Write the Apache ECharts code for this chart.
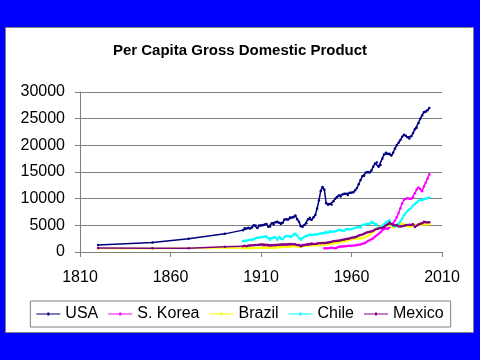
<!DOCTYPE html>
<html>
<head>
<meta charset="utf-8">
<script src="https://cdn.jsdelivr.net/npm/echarts@6/dist/echarts.min.js"></script>
<style>
html,body{margin:0;padding:0;background:#0000FF;}
#chart{width:480px;height:360px;}
</style>
</head>
<body>
<div id="chart"></div>
<script>
// ---- Data ----
const titleText = 'Per Capita Gross Domestic Product';
const seriesNames = ['USA', 'S. Korea', 'Brazil', 'Chile', 'Mexico'];
const yTicks = [0, 5000, 10000, 15000, 20000, 25000, 30000];
const xTicks = [1810, 1860, 1910, 1960, 2010];

const earlyYears = [1820, 1850, 1870, 1890];
const modernYears = [
  1900,1901,1902,1903,1904,1905,1906,1907,1908,1909,
  1910,1911,1912,1913,1914,1915,1916,1917,1918,1919,
  1920,1921,1922,1923,1924,1925,1926,1927,1928,1929,
  1930,1931,1932,1933,1934,1935,1936,1937,1938,1939,
  1940,1941,1942,1943,1944,1945,1946,1947,1948,1949,
  1950,1951,1952,1953,1954,1955,1956,1957,1958,1959,
  1960,1961,1962,1963,1964,1965,1966,1967,1968,1969,
  1970,1971,1972,1973,1974,1975,1976,1977,1978,1979,
  1980,1981,1982,1983,1984,1985,1986,1987,1988,1989,
  1990,1991,1992,1993,1994,1995,1996,1997,1998,1999,
  2000,2001,2002,2003
];

const usaEarly = [1300, 1800, 2500, 3400];
const usaModern = [
  4100,4450,4400,4550,4400,4600,5000,4950,4500,4950,
  4950,5000,5150,5250,4750,4800,5400,5200,5600,5650,
  5500,5250,5500,6100,6150,6100,6450,6450,6500,6850,
  6150,5650,4850,4750,5050,5400,6150,6400,6050,6500,
  6950,8150,9650,11450,12200,11650,9150,8850,9000,8900,
  9500,10000,10300,10600,10400,10800,10900,10900,10700,11100,
  11100,11200,11600,12000,12700,13500,14200,14300,14900,15000,
  14900,15300,16000,16600,16800,16000,16300,17500,18300,18600,
  18400,18400,18100,18600,19400,20000,20500,21000,21600,22000,
  21800,21500,21300,21700,22300,23000,23300,24200,25000,25600,
  26200,26300,26600,27000
];

const koreaModern = [
  null,null,null,null,null,null,null,null,null,null,
  null,850,1150,1200,1000,1000,1050,1100,1150,1100,
  1050,1050,1050,1100,1100,1100,1150,1200,1150,1200,
  1200,1200,1200,1300,1300,1350,1500,1500,1650,1400,
  1450,null,null,null,null,700,650,700,750,800,
  750,700,800,1000,1050,1050,1100,1100,1150,1150,
  1150,1200,1200,1300,1350,1400,1550,1650,1800,2050,
  2200,2400,2550,2900,3150,3400,3700,4100,4300,4400,
  4300,4600,5000,5400,5900,6500,7300,8200,9100,9800,
  10000,10100,10000,10000,10200,11000,11700,12100,11800,11400,
  12300,13000,13800,14600
];

const brazilEarly = [650, 650, 720, 800];
const brazilModern = [
  700,700,700,700,700,720,780,780,760,780,
  800,820,850,830,780,790,800,830,800,870,
  900,890,940,980,970,960,970,1020,1100,1100,
  1050,1000,1030,1100,1150,1160,1230,1250,1280,1260,
  1250,1270,1220,1300,1350,1350,1450,1450,1500,1550,
  1650,1700,1750,1800,1900,1950,1950,2050,2200,2300,
  2350,2450,2550,2550,2550,2550,2600,2650,2850,3050,
  3250,3500,3800,4150,4400,4500,4800,4850,4900,5100,
  5250,4900,4800,4600,4700,5000,5250,5300,5200,5200,
  4900,4850,4700,4850,5000,5100,5100,5200,5150,5100,
  5200,5150,5200,5200
];

const chileModern = [
  2000,2150,2100,2250,2300,2250,2400,2600,2700,2650,
  2750,2800,2900,2950,2600,2300,2600,2750,2700,2300,
  2800,2500,2400,2800,3000,3000,2800,2900,3300,3400,
  3100,2600,2300,2600,2900,3000,3100,3300,3200,3250,
  3350,3300,3400,3450,3450,3600,3750,3600,3900,3800,
  3850,3900,4000,4150,4100,4000,4000,4250,4300,4200,
  4300,4400,4500,4650,4650,4650,5050,5100,5200,5300,
  5300,5650,5500,5150,5150,4450,4550,4900,5200,5500,
  5750,5950,5100,4900,4800,5000,5300,5700,6300,6900,
  7300,7700,8000,8300,8700,9000,9300,9600,9800,9700,
  9900,10000,10100,10200
];

const mexicoEarly = [760, 680, 720, 1000];
const mexicoModern = [
  1100,1150,1100,1200,1200,1250,1250,1300,1300,1350,
  1400,1400,1350,1350,1300,1250,1250,1300,1300,1350,
  1350,1400,1400,1450,1400,1450,1500,1450,1450,1450,
  1300,1300,1100,1200,1300,1350,1400,1450,1450,1500,
  1500,1600,1650,1650,1700,1700,1750,1800,1850,1900,
  2000,2050,2100,2100,2200,2300,2350,2450,2500,2550,
  2650,2700,2750,2900,3100,3200,3300,3400,3600,3700,
  3800,3850,4000,4200,4300,4400,4500,4500,4700,5000,
  5200,5500,5300,5000,5000,5050,4800,4800,4850,4900,
  5000,5050,5100,5050,5200,4700,4900,5150,5300,5400,
  5650,5600,5550,5600
];

const colors = ['#000080', '#FF00FF', '#FFFF00', '#00FFFF', '#800080'];

function pairs(xs, ys) { return xs.map((x, i) => [x, ys[i]]); }

const seriesData = [
  pairs(earlyYears.concat(modernYears), usaEarly.concat(usaModern)),
  pairs(modernYears, koreaModern),
  pairs(earlyYears.concat(modernYears), brazilEarly.concat(brazilModern)),
  pairs(modernYears, chileModern),
  pairs(earlyYears.concat(modernYears), mexicoEarly.concat(mexicoModern))
];

const FONT = '"Liberation Sans", Arial, sans-serif';
const chart = echarts.init(document.getElementById('chart'), null, {renderer: 'canvas'});

chart.setOption({
  backgroundColor: '#0000FF',
  animation: false,
  color: colors,
  graphic: {
    elements: [{
      type: 'rect', z: -10, silent: true,
      shape: {x: 5.5, y: 27.5, width: 468, height: 305},
      style: {fill: '#FFFFFF', stroke: '#808080', lineWidth: 1}
    }]
  },
  title: {
    text: titleText, left: 'center', top: 38,
    textStyle: {fontFamily: FONT, fontSize: 15, fontWeight: 'bold', color: '#000'}
  },
  legend: {
    data: seriesNames,
    left: 'center', top: 301,
    backgroundColor: '#FFFFFF', borderColor: '#808080', borderWidth: 1,
    padding: [5, 7, 5, 6],
    itemWidth: 24, itemHeight: 3, itemGap: 10,
    icon: 'path://M0,1h24v1h-24z M11,0h2v3h-2z',
    textStyle: {fontFamily: FONT, fontSize: 16, color: '#000'}
  },
  grid: {left: 80, right: 38, top: 92, bottom: 108, containLabel: false},
  xAxis: {
    type: 'value', min: xTicks[0], max: xTicks[xTicks.length - 1], interval: 50,
    axisLine: {show: true, lineStyle: {color: '#808080', width: 1}},
    axisTick: {show: true, inside: false, length: 5, lineStyle: {color: '#808080'}},
    splitLine: {show: false},
    axisLabel: {fontFamily: FONT, fontSize: 16, color: '#000', margin: 18,
      formatter: v => String(v)}
  },
  yAxis: {
    type: 'value', min: yTicks[0], max: yTicks[yTicks.length - 1], interval: 5000,
    axisLine: {show: true, lineStyle: {color: '#808080', width: 1}},
    axisTick: {show: true, inside: false, length: 5, lineStyle: {color: '#808080'}},
    splitLine: {show: true, lineStyle: {color: '#808080', width: 1}},
    axisLabel: {fontFamily: FONT, fontSize: 16, color: '#000', margin: 15,
      formatter: v => String(v)}
  },
  series: seriesNames.map((name, i) => ({
    name: name, type: 'line', data: seriesData[i],
    connectNulls: false,
    symbol: 'circle', symbolSize: 2.5, showSymbol: true,
    lineStyle: {width: 1.5, color: colors[i]},
    itemStyle: {color: colors[i]},
    emphasis: {disabled: true},
    z: 2 + (i === 0 ? 5 : i === 4 ? 4 : i === 3 ? 3 : i === 2 ? 2 : 1)
  }))
});
</script>
</body>
</html>
